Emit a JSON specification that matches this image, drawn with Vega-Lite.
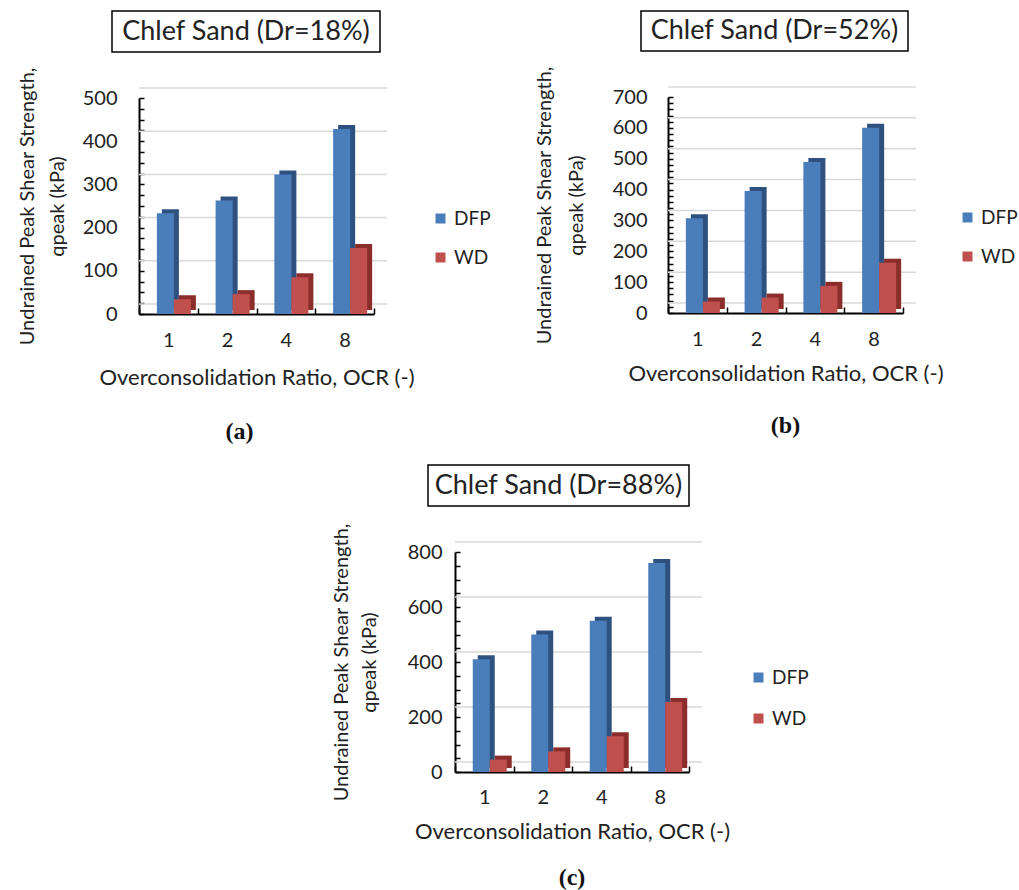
{
  "$schema": "https://vega.github.io/schema/vega-lite/v6.json",
  "background": "white",
  "padding": {"left": 17, "top": 10, "right": 0, "bottom": 0},
  "config": {
    "view": {"stroke": null},
    "font": "Lato",
    "axis": {
      "domainColor": "#000", "domainWidth": 2, "tickColor": "#000", "tickWidth": 1.5,
      "labelFont": "Lato", "labelFontSize": 20, "labelColor": "#222",
      "titleFont": "Lato", "titleFontWeight": "normal", "titleColor": "#222"
    },
    "legend": {"labelFont": "Lato", "labelColor": "#222"}
  },
  "resolve": {"scale": {"color": "independent"}, "legend": {"color": "independent"}},
  "datasets": {
    "bars_a": [
      {"ocr": "1", "series": "DFP", "q": 233}, {"ocr": "2", "series": "DFP", "q": 263},
      {"ocr": "4", "series": "DFP", "q": 323}, {"ocr": "8", "series": "DFP", "q": 428},
      {"ocr": "1", "series": "WD", "q": 34}, {"ocr": "2", "series": "WD", "q": 46},
      {"ocr": "4", "series": "WD", "q": 85}, {"ocr": "8", "series": "WD", "q": 153}
    ],
    "bars_b": [
      {"ocr": "1", "series": "DFP", "q": 307}, {"ocr": "2", "series": "DFP", "q": 395},
      {"ocr": "4", "series": "DFP", "q": 489}, {"ocr": "8", "series": "DFP", "q": 600},
      {"ocr": "1", "series": "WD", "q": 37}, {"ocr": "2", "series": "WD", "q": 50},
      {"ocr": "4", "series": "WD", "q": 88}, {"ocr": "8", "series": "WD", "q": 163}
    ],
    "bars_c": [
      {"ocr": "1", "series": "DFP", "q": 410}, {"ocr": "2", "series": "DFP", "q": 500},
      {"ocr": "4", "series": "DFP", "q": 550}, {"ocr": "8", "series": "DFP", "q": 760},
      {"ocr": "1", "series": "WD", "q": 45}, {"ocr": "2", "series": "WD", "q": 75},
      {"ocr": "4", "series": "WD", "q": 130}, {"ocr": "8", "series": "WD", "q": 255}
    ],
    "grid_a": [{"g": 0}, {"g": 100}, {"g": 200}, {"g": 300}, {"g": 400}, {"g": 500}],
    "grid_b": [{"g": 0}, {"g": 100}, {"g": 200}, {"g": 300}, {"g": 400}, {"g": 500}, {"g": 600}, {"g": 700}],
    "grid_c": [{"g": 0}, {"g": 200}, {"g": 400}, {"g": 600}, {"g": 800}]
  },
  "vconcat": [
    {
      "resolve": {"scale": {"color": "independent"}, "legend": {"color": "independent"}},
      "spacing": 43,
      "hconcat": [
        {
          "resolve": {"scale": {"color": "independent"}, "legend": {"color": "independent"}},
          "bounds": "flush",
          "spacing": 46,
          "vconcat": [
            {
              "width": 268, "height": 41,
              "view": {"stroke": "#000", "strokeWidth": 1.5},
              "data": {"values": [{"t": "Chlef Sand (Dr=18%)"}]},
              "mark": {"type": "text", "font": "Lato", "fontSize": 27, "color": "#222"},
              "encoding": {"text": {"field": "t"}}
            },
            {
              "resolve": {"scale": {"color": "independent"}, "legend": {"color": "independent"}},
              "bounds": "flush",
              "spacing": 0,
              "hconcat": [
                {"width": 27, "height": 10, "data": {"values": []}, "mark": "point"},
                {
                  "width": 235, "height": 216,
                  "title": {"text": "(a)", "orient": "bottom", "font": "Liberation Serif", "fontSize": 24, "fontWeight": "bold", "color": "#111", "offset": 32, "dx": -17, "anchor": "middle", "frame": "group"},
                  "layer": [
                    {
                      "data": {"name": "grid_a"},
                      "mark": {"type": "rule", "color": "#d9d9d9", "strokeWidth": 1.5, "xOffset": 13, "yOffset": -10},
                      "encoding": {
                        "y": {"field": "g", "type": "quantitative", "scale": {"domain": [0, 500], "nice": false},
                          "axis": {"values": [0,25,50,75,100,125,150,175,200,225,250,275,300,325,350,375,400,425,450,475,500],
                            "tickCount": 100, "tickSize": -5,
                            "labelExpr": "datum.value % 100 === 0 ? datum.label : ''", "labelOverlap": false, "grid": false,
                            "labelPadding": 27,
                            "title": ["Undrained Peak Shear Strength,", "qpeak (kPa)"], "titleFontSize": 20, "titlePadding": 15, "titleLineHeight": 30}}
                      }
                    },
                    {
                      "data": {"name": "bars_a"},
                      "transform": [{"filter": "datum.series === 'DFP'"}],
                      "mark": {"type": "bar", "color": "#2F5180", "width": {"band": 0.29}, "xOffset": 2, "x2Offset": 2, "yOffset": -4, "y2Offset": -4},
                      "encoding": {
                        "x": {"field": "ocr", "type": "ordinal", "scale": {"domain": ["1", "2", "4", "8"], "paddingInner": 0, "paddingOuter": 0},
                          "axis": {"labelAngle": 0, "tickBand": "extent", "tickSize": -6, "labelPadding": 22, "title": "Overconsolidation Ratio, OCR (-)", "titleFontSize": 22, "titlePadding": 17}},
                        "y": {"field": "q", "type": "quantitative", "scale": {"domain": [0, 500], "nice": false}}
                      }
                    },
                    {
                      "data": {"name": "bars_a"},
                      "transform": [{"filter": "datum.series === 'DFP'"}],
                      "mark": {"type": "bar", "width": {"band": 0.29}, "xOffset": -3, "x2Offset": -3},
                      "encoding": {
                        "x": {"field": "ocr", "type": "ordinal"},
                        "y": {"field": "q", "type": "quantitative"},
                        "color": {"field": "series", "type": "nominal", "scale": {"domain": ["DFP", "WD"], "range": ["#4A7EBB", "#C0504D"]},
                          "legend": {"title": null, "orient": "none", "legendX": 292, "legendY": 111, "symbolType": "square", "symbolSize": 100, "symbolStrokeWidth": 0, "labelFontSize": 19, "labelOffset": 4, "rowPadding": 19, "padding": 0}}
                      }
                    },
                    {
                      "data": {"name": "bars_a"},
                      "transform": [{"filter": "datum.series === 'WD'"}],
                      "mark": {"type": "bar", "color": "#8B2E2B", "width": {"band": 0.29}, "xOffset": 19, "x2Offset": 19, "yOffset": -4, "y2Offset": -4},
                      "encoding": {
                        "x": {"field": "ocr", "type": "ordinal"},
                        "y": {"field": "q", "type": "quantitative"}
                      }
                    },
                    {
                      "data": {"name": "bars_a"},
                      "transform": [{"filter": "datum.series === 'WD'"}],
                      "mark": {"type": "bar", "width": {"band": 0.29}, "xOffset": 14, "x2Offset": 14},
                      "encoding": {
                        "x": {"field": "ocr", "type": "ordinal"},
                        "y": {"field": "q", "type": "quantitative"},
                        "color": {"field": "series", "type": "nominal"}
                      }
                    }
                  ]
                }
              ]
            }
          ]
        },
        {
          "resolve": {"scale": {"color": "independent"}, "legend": {"color": "independent"}},
          "bounds": "flush",
          "spacing": 46,
          "vconcat": [
            {
              "width": 267, "height": 40,
              "view": {"stroke": "#000", "strokeWidth": 1.5},
              "data": {"values": [{"t": "Chlef Sand (Dr=52%)"}]},
              "mark": {"type": "text", "font": "Lato", "fontSize": 27, "color": "#222"},
              "encoding": {"text": {"field": "t"}}
            },
            {
              "resolve": {"scale": {"color": "independent"}, "legend": {"color": "independent"}},
              "bounds": "flush",
              "spacing": 0,
              "hconcat": [
                {"width": 27, "height": 10, "data": {"values": []}, "mark": "point"},
                {
                  "width": 235, "height": 216,
                  "title": {"text": "(b)", "orient": "bottom", "font": "Liberation Serif", "fontSize": 24, "fontWeight": "bold", "color": "#111", "offset": 30, "anchor": "middle", "frame": "group"},
                  "layer": [
                    {
                      "data": {"name": "grid_b"},
                      "mark": {"type": "rule", "color": "#d9d9d9", "strokeWidth": 1.5, "xOffset": 13, "yOffset": -10},
                      "encoding": {
                        "y": {"field": "g", "type": "quantitative", "scale": {"domain": [0, 700], "nice": false},
                          "axis": {"values": [0,20,40,60,80,100,120,140,160,180,200,220,240,260,280,300,320,340,360,380,400,420,440,460,480,500,520,540,560,580,600,620,640,660,680,700],
                            "tickCount": 100, "tickSize": -5,
                            "labelExpr": "datum.value % 100 === 0 ? datum.label : ''", "labelOverlap": false, "grid": false,
                            "labelPadding": 26,
                            "title": ["Undrained Peak Shear Strength,", "qpeak (kPa)"], "titleFontSize": 20, "titlePadding": 26, "titleLineHeight": 32}}
                      }
                    },
                    {
                      "data": {"name": "bars_b"},
                      "transform": [{"filter": "datum.series === 'DFP'"}],
                      "mark": {"type": "bar", "color": "#2F5180", "width": {"band": 0.29}, "xOffset": 2, "x2Offset": 2, "yOffset": -4, "y2Offset": -4},
                      "encoding": {
                        "x": {"field": "ocr", "type": "ordinal", "scale": {"domain": ["1", "2", "4", "8"], "paddingInner": 0, "paddingOuter": 0},
                          "axis": {"labelAngle": 0, "tickBand": "extent", "tickSize": -6, "labelPadding": 22, "title": "Overconsolidation Ratio, OCR (-)", "titleFontSize": 22, "titlePadding": 14}},
                        "y": {"field": "q", "type": "quantitative", "scale": {"domain": [0, 700], "nice": false}}
                      }
                    },
                    {
                      "data": {"name": "bars_b"},
                      "transform": [{"filter": "datum.series === 'DFP'"}],
                      "mark": {"type": "bar", "width": {"band": 0.29}, "xOffset": -3, "x2Offset": -3},
                      "encoding": {
                        "x": {"field": "ocr", "type": "ordinal"},
                        "y": {"field": "q", "type": "quantitative"},
                        "color": {"field": "series", "type": "nominal", "scale": {"domain": ["DFP", "WD"], "range": ["#4A7EBB", "#C0504D"]},
                          "legend": {"title": null, "orient": "none", "legendX": 290, "legendY": 111, "symbolType": "square", "symbolSize": 100, "symbolStrokeWidth": 0, "labelFontSize": 19, "labelOffset": 4, "rowPadding": 19, "padding": 0}}
                      }
                    },
                    {
                      "data": {"name": "bars_b"},
                      "transform": [{"filter": "datum.series === 'WD'"}],
                      "mark": {"type": "bar", "color": "#8B2E2B", "width": {"band": 0.29}, "xOffset": 19, "x2Offset": 19, "yOffset": -4, "y2Offset": -4},
                      "encoding": {
                        "x": {"field": "ocr", "type": "ordinal"},
                        "y": {"field": "q", "type": "quantitative"}
                      }
                    },
                    {
                      "data": {"name": "bars_b"},
                      "transform": [{"filter": "datum.series === 'WD'"}],
                      "mark": {"type": "bar", "width": {"band": 0.29}, "xOffset": 14, "x2Offset": 14},
                      "encoding": {
                        "x": {"field": "ocr", "type": "ordinal"},
                        "y": {"field": "q", "type": "quantitative"},
                        "color": {"field": "series", "type": "nominal"}
                      }
                    }
                  ]
                }
              ]
            }
          ]
        }
      ]
    },
    {
      "resolve": {"scale": {"color": "independent"}, "legend": {"color": "independent"}},
      "spacing": 0,
      "hconcat": [
        {"width": 10, "height": 10, "data": {"values": []}, "mark": "point"},
        {
          "resolve": {"scale": {"color": "independent"}, "legend": {"color": "independent"}},
          "bounds": "flush",
          "spacing": 46,
          "vconcat": [
            {
              "width": 261, "height": 41,
              "view": {"stroke": "#000", "strokeWidth": 1.5},
              "data": {"values": [{"t": "Chlef Sand (Dr=88%)"}]},
              "mark": {"type": "text", "font": "Lato", "fontSize": 27, "color": "#222"},
              "encoding": {"text": {"field": "t"}}
            },
            {
              "resolve": {"scale": {"color": "independent"}, "legend": {"color": "independent"}},
              "bounds": "flush",
              "spacing": 0,
              "hconcat": [
                {"width": 27, "height": 10, "data": {"values": []}, "mark": "point"},
                {
                  "width": 234, "height": 220,
                  "title": {"text": "(c)", "orient": "bottom", "font": "Liberation Serif", "fontSize": 24, "fontWeight": "bold", "color": "#111", "offset": 24, "anchor": "middle", "frame": "group"},
                  "layer": [
                    {
                      "data": {"name": "grid_c"},
                      "mark": {"type": "rule", "color": "#d9d9d9", "strokeWidth": 1.5, "xOffset": 13, "yOffset": -10},
                      "encoding": {
                        "y": {"field": "g", "type": "quantitative", "scale": {"domain": [0, 800], "nice": false},
                          "axis": {"values": [0,50,100,150,200,250,300,350,400,450,500,550,600,650,700,750,800],
                            "tickCount": 100, "tickSize": -5,
                            "labelExpr": "datum.value % 200 === 0 ? datum.label : ''", "labelOverlap": false, "grid": false,
                            "labelPadding": 18,
                            "title": ["Undrained Peak Shear Strength,", "qpeak (kPa)"], "titleFontSize": 20, "titlePadding": 28, "titleLineHeight": 28}}
                      }
                    },
                    {
                      "data": {"name": "bars_c"},
                      "transform": [{"filter": "datum.series === 'DFP'"}],
                      "mark": {"type": "bar", "color": "#2F5180", "width": {"band": 0.29}, "xOffset": 2, "x2Offset": 2, "yOffset": -4, "y2Offset": -4},
                      "encoding": {
                        "x": {"field": "ocr", "type": "ordinal", "scale": {"domain": ["1", "2", "4", "8"], "paddingInner": 0, "paddingOuter": 0},
                          "axis": {"labelAngle": 0, "tickBand": "extent", "tickSize": -6, "labelPadding": 21, "title": "Overconsolidation Ratio, OCR (-)", "titleFontSize": 22, "titlePadding": 14}},
                        "y": {"field": "q", "type": "quantitative", "scale": {"domain": [0, 800], "nice": false}}
                      }
                    },
                    {
                      "data": {"name": "bars_c"},
                      "transform": [{"filter": "datum.series === 'DFP'"}],
                      "mark": {"type": "bar", "width": {"band": 0.29}, "xOffset": -3, "x2Offset": -3},
                      "encoding": {
                        "x": {"field": "ocr", "type": "ordinal"},
                        "y": {"field": "q", "type": "quantitative"},
                        "color": {"field": "series", "type": "nominal", "scale": {"domain": ["DFP", "WD"], "range": ["#4A7EBB", "#C0504D"]},
                          "legend": {"title": null, "orient": "none", "legendX": 294, "legendY": 116, "symbolType": "square", "symbolSize": 100, "symbolStrokeWidth": 0, "labelFontSize": 19, "labelOffset": 4, "rowPadding": 21, "padding": 0}}
                      }
                    },
                    {
                      "data": {"name": "bars_c"},
                      "transform": [{"filter": "datum.series === 'WD'"}],
                      "mark": {"type": "bar", "color": "#8B2E2B", "width": {"band": 0.29}, "xOffset": 19, "x2Offset": 19, "yOffset": -4, "y2Offset": -4},
                      "encoding": {
                        "x": {"field": "ocr", "type": "ordinal"},
                        "y": {"field": "q", "type": "quantitative"}
                      }
                    },
                    {
                      "data": {"name": "bars_c"},
                      "transform": [{"filter": "datum.series === 'WD'"}],
                      "mark": {"type": "bar", "width": {"band": 0.29}, "xOffset": 14, "x2Offset": 14},
                      "encoding": {
                        "x": {"field": "ocr", "type": "ordinal"},
                        "y": {"field": "q", "type": "quantitative"},
                        "color": {"field": "series", "type": "nominal"}
                      }
                    }
                  ]
                }
              ]
            }
          ]
        }
      ]
    }
  ],
  "spacing": 20,
  "center": true
}
